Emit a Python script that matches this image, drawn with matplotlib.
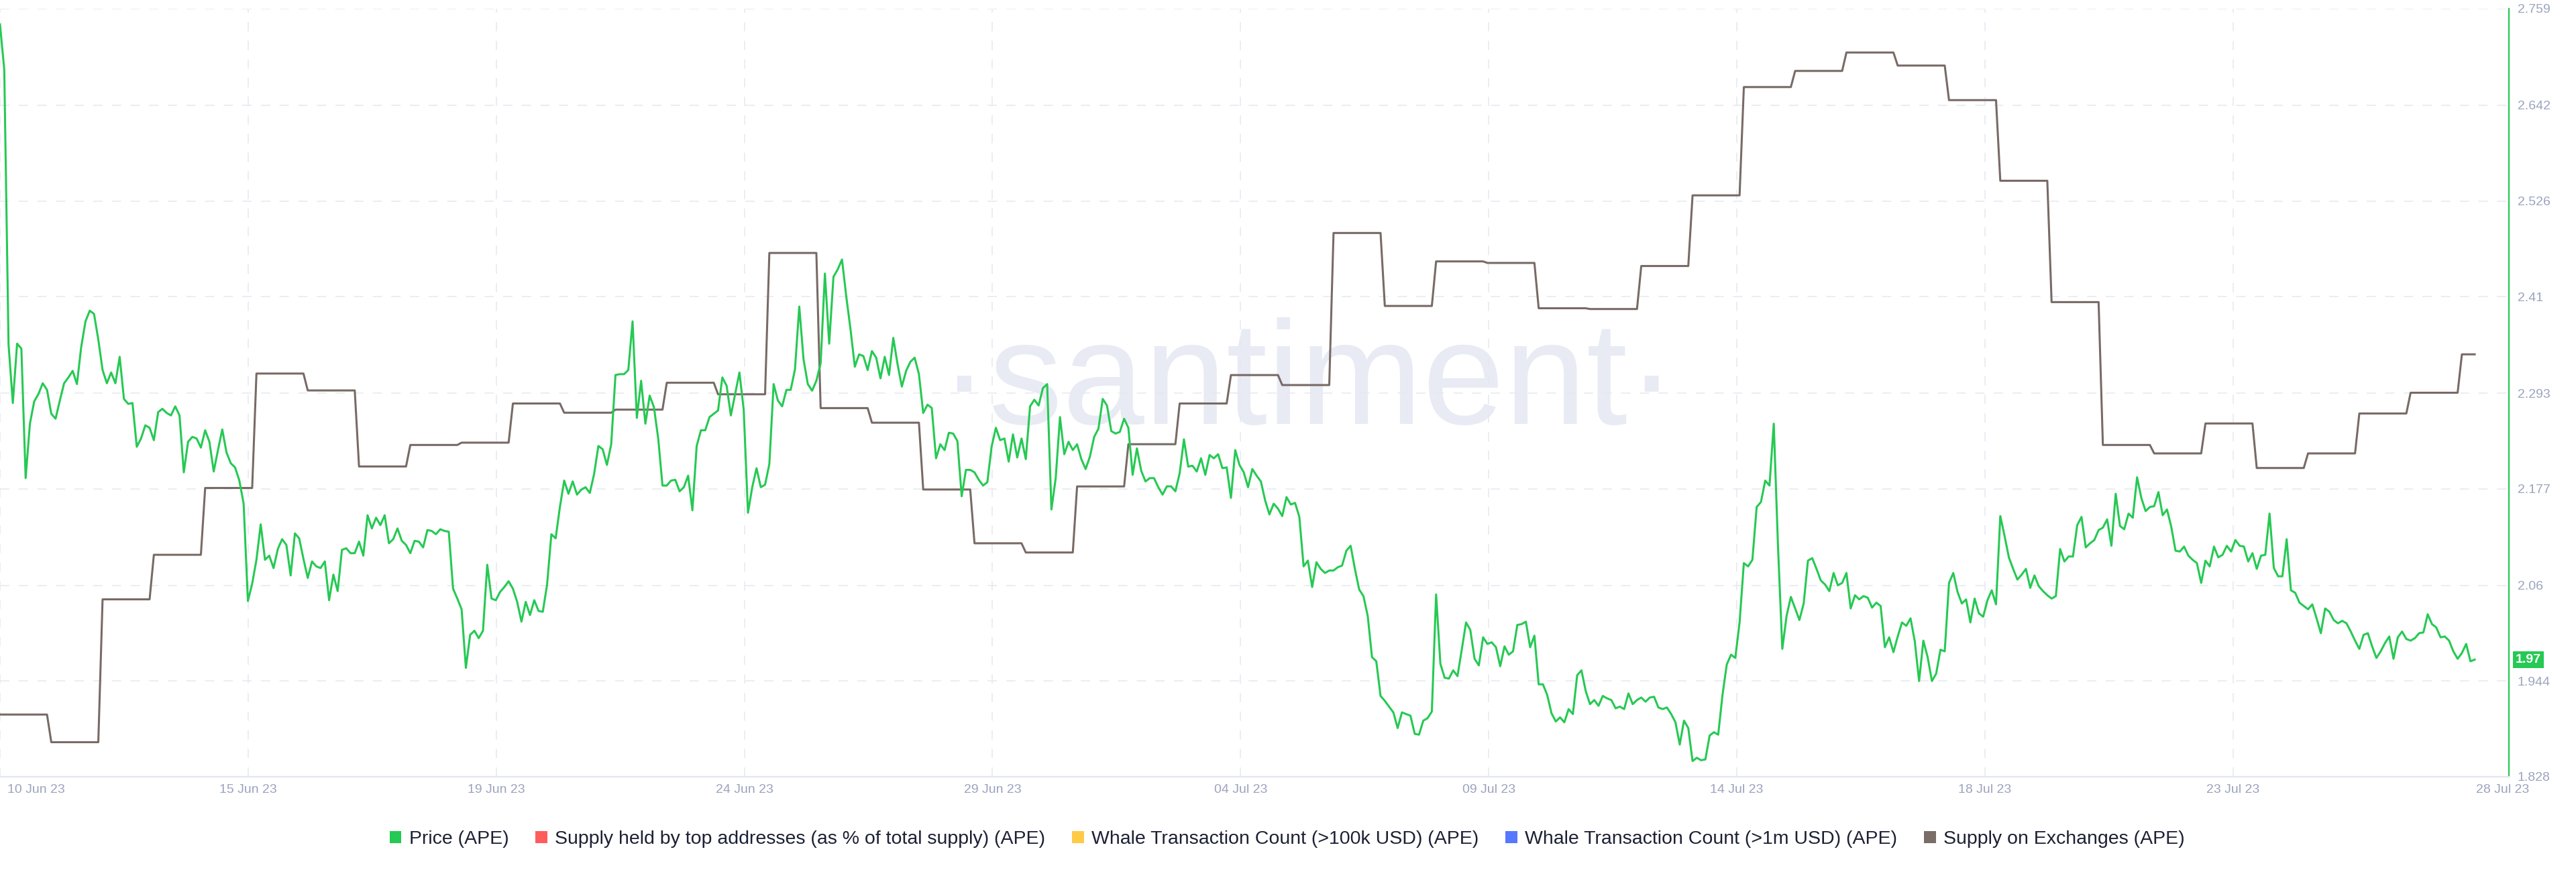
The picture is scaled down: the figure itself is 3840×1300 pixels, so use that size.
import numpy as np
import matplotlib
matplotlib.use("Agg")
import matplotlib.pyplot as plt
import matplotlib.patches as mpatches
import matplotlib.transforms as mtransforms
from matplotlib import font_manager

# ---------------- data ----------------
# APE price, 2-hour samples starting 10 Jun 23 00:00
price = [
    2.740, 2.685, 2.352, 2.281, 2.353, 2.347, 2.190, 2.256, 2.283, 2.292,
    2.305, 2.297, 2.268, 2.262, 2.284, 2.305, 2.312, 2.320, 2.304, 2.349,
    2.380, 2.393, 2.389, 2.358, 2.321, 2.305, 2.318, 2.305, 2.337, 2.286,
    2.280, 2.281, 2.228, 2.238, 2.254, 2.251, 2.236, 2.270, 2.274, 2.269,
    2.266, 2.277, 2.266, 2.197, 2.234, 2.240, 2.238, 2.227, 2.248, 2.234,
    2.198, 2.224, 2.249, 2.221, 2.208, 2.203, 2.187, 2.159, 2.041, 2.062,
    2.091, 2.134, 2.091, 2.096, 2.081, 2.104, 2.116, 2.109, 2.072, 2.123,
    2.117, 2.092, 2.069, 2.089, 2.083, 2.081, 2.089, 2.042, 2.073, 2.053,
    2.103, 2.105, 2.099, 2.099, 2.113, 2.096, 2.145, 2.129, 2.142, 2.133,
    2.145, 2.111, 2.116, 2.129, 2.114, 2.109, 2.099, 2.114, 2.113, 2.106,
    2.127, 2.126, 2.122, 2.128, 2.126, 2.125, 2.056, 2.044, 2.031, 1.960,
    2.000, 2.005, 1.996, 2.005, 2.085, 2.044, 2.042, 2.052, 2.058, 2.065,
    2.056, 2.040, 2.016, 2.040, 2.024, 2.042, 2.029, 2.028, 2.061, 2.122,
    2.117, 2.155, 2.187, 2.171, 2.186, 2.170, 2.176, 2.179, 2.172, 2.195,
    2.229, 2.225, 2.206, 2.231, 2.315, 2.316, 2.316, 2.321, 2.380, 2.263,
    2.308, 2.256, 2.290, 2.276, 2.238, 2.181, 2.181, 2.187, 2.188, 2.174,
    2.179, 2.193, 2.151, 2.229, 2.248, 2.248, 2.264, 2.268, 2.272, 2.312,
    2.302, 2.266, 2.292, 2.318, 2.273, 2.148, 2.179, 2.202, 2.179, 2.182,
    2.207, 2.304, 2.284, 2.277, 2.297, 2.297, 2.322, 2.398, 2.334, 2.304,
    2.296, 2.308, 2.329, 2.438, 2.353, 2.434, 2.443, 2.455, 2.410, 2.370,
    2.325, 2.340, 2.338, 2.321, 2.344, 2.336, 2.311, 2.337, 2.315, 2.360,
    2.328, 2.301, 2.320, 2.331, 2.336, 2.316, 2.269, 2.279, 2.275, 2.214,
    2.231, 2.224, 2.245, 2.244, 2.235, 2.168, 2.200, 2.200, 2.197, 2.188,
    2.181, 2.185, 2.228, 2.251, 2.236, 2.238, 2.210, 2.243, 2.215, 2.238,
    2.213, 2.277, 2.285, 2.278, 2.299, 2.304, 2.152, 2.190, 2.264, 2.219,
    2.234, 2.224, 2.231, 2.213, 2.201, 2.216, 2.240, 2.250, 2.286, 2.278,
    2.247, 2.244, 2.246, 2.262, 2.251, 2.194, 2.226, 2.199, 2.186, 2.190,
    2.190, 2.179, 2.170, 2.180, 2.180, 2.174, 2.196, 2.237, 2.204, 2.205,
    2.198, 2.214, 2.194, 2.218, 2.214, 2.219, 2.202, 2.203, 2.166, 2.224,
    2.206, 2.197, 2.179, 2.201, 2.193, 2.186, 2.163, 2.146, 2.159, 2.153,
    2.144, 2.167, 2.158, 2.160, 2.143, 2.083, 2.090, 2.058, 2.088, 2.080,
    2.075, 2.078, 2.078, 2.082, 2.084, 2.102, 2.108, 2.080, 2.055, 2.047,
    2.023, 1.973, 1.968, 1.926, 1.920, 1.913, 1.906, 1.887, 1.906, 1.904,
    1.902, 1.880, 1.879, 1.896, 1.899, 1.907, 2.049, 1.965, 1.948, 1.947,
    1.957, 1.950, 1.982, 2.015, 2.006, 1.971, 1.963, 1.997, 1.989, 1.991,
    1.985, 1.962, 1.986, 1.976, 1.980, 2.012, 2.013, 2.016, 1.985, 1.999,
    1.940, 1.940, 1.927, 1.905, 1.895, 1.900, 1.894, 1.910, 1.904, 1.951,
    1.957, 1.932, 1.916, 1.921, 1.914, 1.926, 1.923, 1.921, 1.911, 1.913,
    1.910, 1.929, 1.916, 1.921, 1.924, 1.919, 1.924, 1.925, 1.912, 1.910,
    1.912, 1.904, 1.894, 1.867, 1.896, 1.887, 1.847, 1.851, 1.848, 1.849,
    1.878, 1.882, 1.879, 1.927, 1.964, 1.976, 1.972, 2.015, 2.087, 2.083,
    2.091, 2.155, 2.161, 2.187, 2.181, 2.256, 2.106, 1.983, 2.023, 2.046,
    2.032, 2.018, 2.038, 2.090, 2.093, 2.080, 2.066, 2.061, 2.053, 2.075,
    2.060, 2.063, 2.075, 2.032, 2.048, 2.043, 2.047, 2.045, 2.033, 2.039,
    2.035, 1.985, 1.997, 1.979, 1.998, 2.015, 2.011, 2.020, 1.992, 1.944,
    1.993, 1.973, 1.944, 1.953, 1.982, 1.980, 2.063, 2.075, 2.052, 2.038,
    2.043, 2.015, 2.044, 2.026, 2.022, 2.042, 2.054, 2.037, 2.144, 2.120,
    2.094, 2.080, 2.067, 2.073, 2.080, 2.057, 2.072, 2.059, 2.053, 2.048,
    2.044, 2.047, 2.104, 2.089, 2.095, 2.095, 2.133, 2.143, 2.106, 2.111,
    2.115, 2.127, 2.130, 2.140, 2.108, 2.171, 2.132, 2.128, 2.147, 2.142,
    2.191, 2.166, 2.150, 2.155, 2.156, 2.173, 2.145, 2.152, 2.131, 2.102,
    2.101, 2.107, 2.096, 2.091, 2.087, 2.063, 2.090, 2.083, 2.107, 2.094,
    2.097, 2.108, 2.101, 2.115, 2.108, 2.107, 2.089, 2.099, 2.080, 2.096,
    2.097, 2.147, 2.081, 2.071, 2.071, 2.116, 2.054, 2.051, 2.039, 2.035,
    2.031, 2.037, 2.020, 2.002, 2.032, 2.028, 2.018, 2.014, 2.017, 2.014,
    2.004, 1.993, 1.983, 2.000, 2.002, 1.986, 1.972, 1.980, 1.990, 1.998,
    1.971, 1.997, 2.004, 1.995, 1.993, 1.996, 2.002, 2.003, 2.025, 2.013,
    2.009, 1.997, 1.998, 1.993, 1.980, 1.971, 1.978, 1.989, 1.968, 1.970,
]
SAMPLE_HOURS = 2

# Supply on Exchanges, daily values (own hidden scale, % of plot height)
supply_daily = [
    8.1, 4.5, 23.1, 28.9, 37.6, 52.5, 50.3, 40.4, 43.2, 43.5,
    48.6, 47.4, 47.8, 51.3, 49.8, 68.2, 48.0, 46.1, 37.4, 30.4,
    29.2, 37.8, 43.3, 48.6, 52.3, 51.0, 70.8, 61.3, 67.1, 66.9,
    61.0, 60.9, 66.5, 75.7, 89.8, 91.9, 94.3, 92.6, 88.1, 77.6,
    61.8, 43.2, 42.1, 46.0, 40.2, 42.1, 47.3, 50.0, 55.0,
]

price_ticks = [1.828, 1.944, 2.06, 2.177, 2.293, 2.41, 2.526, 2.642, 2.759]
price_tick_labels = ["1.828", "1.944", "2.06", "2.177", "2.293", "2.41", "2.526", "2.642", "2.759"]

date_labels = ["10 Jun 23", "15 Jun 23", "19 Jun 23", "24 Jun 23", "29 Jun 23", "04 Jul 23",
               "09 Jul 23", "14 Jul 23", "18 Jul 23", "23 Jul 23", "28 Jul 23"]
date_tick_hours = [17, 116.1, 232.2, 348.3, 464.4, 580.5, 696.6, 812.7, 928.8, 1044.9, 1171]
grid_hours = [0, 116.1, 232.2, 348.3, 464.4, 580.5, 696.6, 812.7, 928.8, 1044.9]
X_MAX_HOURS = 1174

legend_labels = ["Price (APE)", "Supply held by top addresses (as % of total supply) (APE)",
                 "Whale Transaction Count (>100k USD) (APE)", "Whale Transaction Count (>1m USD) (APE)",
                 "Supply on Exchanges (APE)"]
legend_colors = ["#26c953", "#ff5d5d", "#ffcb47", "#5677ff", "#7a6d68"]

# ---------------- style ----------------
GREEN = "#26c953"
BROWN = "#786a65"
GRID = "#e5e8f1"
TICK = "#9ca4be"

available = {f.name for f in font_manager.fontManager.ttflist}
BASE_FONT = "Liberation Sans" if "Liberation Sans" in available else "DejaVu Sans"
plt.rcParams["font.family"] = [BASE_FONT, "DejaVu Sans"]
plt.rcParams["lines.scale_dashes"] = False

fig = plt.figure(figsize=(38.4, 13), dpi=100)
fig.patch.set_facecolor("white")
ax = fig.add_axes([0.0, 1 - 1158 / 1300, 3740 / 3840, (1158 - 13) / 1300])
ax.set_facecolor("white")

n = len(price)
t = np.arange(n) * SAMPLE_HOURS
supply_2h = np.repeat(np.array(supply_daily), 24 // SAMPLE_HOURS)[:n]

# watermark (behind everything)
if "Liberation Sans Narrow" in available:
    wm_font, wm_size = "Liberation Sans Narrow", 180
else:
    wm_font, wm_size = BASE_FONT, 158
ax.text(612, 2.256, "·santiment·", ha="center", va="baseline", fontsize=wm_size,
        family=[wm_font, "DejaVu Sans"], color="#e8ebf4", zorder=0.5)

# grid
for yv in price_ticks[1:]:
    ax.axhline(yv, color=GRID, lw=1.1, dashes=(10, 10), zorder=0.6)
for xv in grid_hours:
    ax.axvline(xv, color=GRID, lw=1.1, dashes=(10, 10), zorder=0.6)

# supply on exchanges: own scale (0-100 of plot height), drawn via a blended transform
supply_tf = mtransforms.blended_transform_factory(ax.transData, ax.transAxes)
ax.plot(t, supply_2h / 100.0, color=BROWN, lw=2.2, zorder=2, transform=supply_tf)

# price
ax.plot(t, price, color=GREEN, lw=2.2, zorder=3)

ax.set_xlim(0, X_MAX_HOURS)
ax.set_ylim(price_ticks[0], price_ticks[-1])

ax.yaxis.tick_right()
ax.set_yticks(price_ticks)
ax.set_yticklabels(price_tick_labels)
ax.set_xticks(date_tick_hours)
ax.set_xticklabels(date_labels)
ax.tick_params(axis="y", length=0, pad=9, labelsize=14, labelcolor=TICK)
ax.tick_params(axis="x", length=0, pad=8, labelsize=14, labelcolor=TICK)

for s in ["top", "left"]:
    ax.spines[s].set_visible(False)
ax.spines["right"].set_color(GREEN)
ax.spines["right"].set_linewidth(1.6)
ax.spines["bottom"].set_color("#e2e6ef")
ax.spines["bottom"].set_linewidth(1.6)

# last value tag
blend = mtransforms.blended_transform_factory(ax.transAxes, ax.transData)
ax.annotate(f"{price[-1]:.2f}", xy=(1.0, price[-1]), xycoords=blend,
            xytext=(10, 0), textcoords="offset pixels", ha="left", va="center",
            fontsize=14, fontweight="bold", color="white", annotation_clip=False,
            bbox=dict(boxstyle="square,pad=0.22", fc=GREEN, ec="none"), zorder=10)

# legend
handles = [mpatches.Patch(facecolor=c, edgecolor="none") for c in legend_colors]
fig.legend(handles, legend_labels, loc="center", bbox_to_anchor=(0.4997, 1 - 1251 / 1300),
           ncol=5, frameon=False, fontsize=20.5, handlelength=0.62, handleheight=0.62,
           handletextpad=0.4, columnspacing=1.4, labelcolor="#1c2033")

fig.savefig("out.png", dpi=100, facecolor="white")
